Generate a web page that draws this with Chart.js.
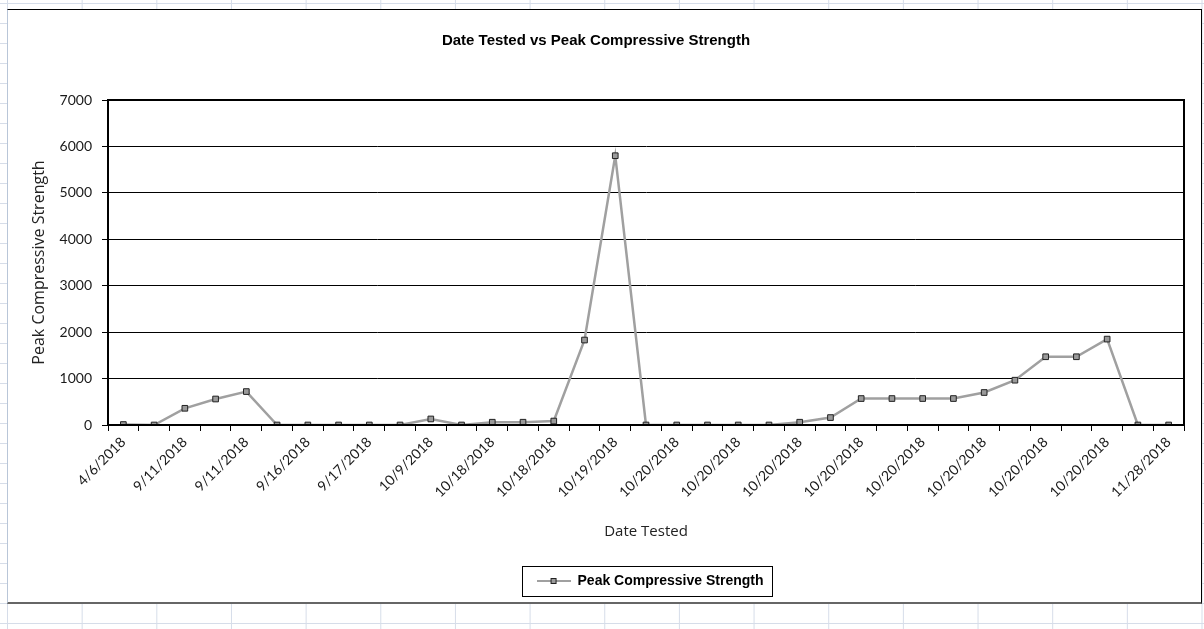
<!DOCTYPE html>
<html lang="en">
<head>
    <meta charset="UTF-8">
    <title>Date Tested vs Peak Compressive Strength</title>
    <style>
        body {
            margin: 0;
            width: 1204px;
            height: 629px;
            overflow: hidden;
            background-color: white;
            /* faint spreadsheet cell lines behind the chart object */
            background-image:
                linear-gradient(to right, #d6dde9 1px, transparent 1px),
                linear-gradient(to bottom, #d6dde9 1px, transparent 1px);
            background-size: 74.67px 100%, 100% 20px;
            background-position: 7px 0, 0 3px;
        }
        #wrap {
            position: absolute;
            left: 7px;
            top: 9px;
            width: 1193px;
            height: 592px;
            background: white;
            border-left: 1px solid #b9c6d8;
            border-top: 1px solid #000;
            border-right: 1px solid #000;
            border-bottom: 2px solid #666;
        }
        #lineChart {
            display: block;
        }
    </style>
    <script src="https://cdn.jsdelivr.net/npm/chart.js"></script>
</head>
<body>
    <div id="wrap">
        <canvas id="lineChart" width="1193" height="592"></canvas>
    </div>

    <script>
        // dates tested (only every second one is labelled on the axis)
        const dates = [
            '4/6/2018', '9/11/2018', '9/11/2018', '9/11/2018', '9/11/2018',
            '9/16/2018', '9/16/2018', '9/17/2018', '9/17/2018', '10/9/2018',
            '10/9/2018', '10/18/2018', '10/18/2018', '10/18/2018', '10/18/2018',
            '10/19/2018', '10/19/2018', '10/20/2018', '10/20/2018', '10/20/2018',
            '10/20/2018', '10/20/2018', '10/20/2018', '10/20/2018', '10/20/2018',
            '10/20/2018', '10/20/2018', '10/20/2018', '10/20/2018', '10/20/2018',
            '10/20/2018', '10/20/2018', '10/20/2018', '11/28/2018', '11/28/2018'
        ];

        const peakStrength = [
            10, 0, 360, 560, 720, 0, 0, 0, 0, 0,
            130, 0, 60, 60, 85, 1830, 5800, 0, 0, 0,
            0, 0, 60, 160, 570, 570, 570, 570, 700, 965,
            1470, 1470, 1850, 0, 0
        ];

        const yTicks = [0, 1000, 2000, 3000, 4000, 5000, 6000, 7000];

        // legend symbol: grey line with a small square marker
        function legendSymbol() {
            const c = document.createElement('canvas');
            c.width = 34;
            c.height = 10;
            const g = c.getContext('2d');
            g.strokeStyle = '#a0a0a0';
            g.lineWidth = 2;
            g.beginPath();
            g.moveTo(0, 5);
            g.lineTo(34, 5);
            g.stroke();
            g.fillStyle = '#9a9a9a';
            g.fillRect(14, 2, 6, 6);
            g.strokeStyle = '#222';
            g.lineWidth = 1;
            g.strokeRect(14.5, 2.5, 5, 5);
            return c;
        }

        // black frame round the plot area, a box round the legend,
        // and the legend nudged to sit under the middle of the plot
        const frames = {
            id: 'frames',
            afterLayout(chart) {
                const lg = chart.legend;
                const a = chart.chartArea;
                const shift = Math.round((a.left + a.right) / 2 + 4 - (lg.left + lg.right) / 2);
                lg.left += shift;
                lg.right += shift;
            },
            afterDraw(chart) {
                const ctx = chart.ctx;
                const a = chart.chartArea;
                ctx.save();
                ctx.strokeStyle = '#000';
                ctx.lineWidth = 2;
                ctx.strokeRect(a.left, a.top, a.right - a.left, a.bottom - a.top);
                const hb = chart.legend.legendHitBoxes[0];
                if (hb) {
                    const cy = hb.top + hb.height / 2;
                    ctx.lineWidth = 1;
                    ctx.strokeRect(Math.round(hb.left - 15) + 0.5, Math.round(cy - 15) + 0.5,
                        Math.round(hb.width + 23), 30);
                }
                ctx.restore();
            }
        };

        function createLineChart() {
            const ctx = document.getElementById('lineChart').getContext('2d');
            const symbol = legendSymbol();

            new Chart(ctx, {
                type: 'line',
                data: {
                    labels: dates,
                    datasets: [{
                        label: 'Peak Compressive Strength',
                        data: peakStrength,
                        borderColor: '#a0a0a0',
                        borderWidth: 2.5,
                        pointStyle: 'rect',
                        pointRadius: 4,
                        pointBackgroundColor: '#9a9a9a',
                        pointBorderColor: '#222',
                        pointBorderWidth: 1,
                        fill: false,
                        tension: 0
                    }]
                },
                options: {
                    responsive: false,
                    animation: false,
                    layout: {
                        padding: { left: 0, right: 17, top: 0, bottom: 4 }
                    },
                    scales: {
                        x: {
                            offset: true,
                            afterFit: (scale) => { scale.height = 139; },
                            grid: {
                                offset: true,
                                drawOnChartArea: false,
                                drawTicks: true,
                                tickLength: 6,
                                color: '#000'
                            },
                            border: { color: '#000', width: 2 },
                            ticks: {
                                autoSkip: false,
                                minRotation: 45,
                                maxRotation: 45,
                                color: '#1a1a1a',
                                font: { family: 'Lato', size: 14 },
                                callback: function (value, index) {
                                    return index % 2 === 0 ? this.getLabelForValue(value) : '';
                                }
                            },
                            title: {
                                display: true,
                                text: 'Date Tested',
                                color: '#222',
                                font: { family: 'Open Sans', size: 15 },
                                padding: { top: 0, bottom: 23 }
                            }
                        },
                        y: {
                            min: yTicks[0],
                            max: yTicks[yTicks.length - 1],
                            afterFit: (scale) => { scale.width = 100; },
                            afterBuildTicks: (scale) => {
                                scale.ticks = yTicks.map(v => ({ value: v }));
                            },
                            grid: {
                                color: '#000',
                                tickLength: 6
                            },
                            border: { color: '#000', width: 2 },
                            ticks: {
                                padding: 10,
                                color: '#1a1a1a',
                                font: { family: 'Lato', size: 14 },
                                callback: (value) => String(value)
                            },
                            title: {
                                display: true,
                                text: 'Peak Compressive Strength',
                                color: '#222',
                                font: { family: 'Open Sans', size: 16 },
                                padding: { top: 22, bottom: 0 }
                            }
                        }
                    },
                    plugins: {
                        title: {
                            display: true,
                            text: 'Date Tested vs Peak Compressive Strength',
                            color: '#000',
                            font: { family: 'Liberation Sans', size: 15, weight: 'bold' },
                            padding: { top: 22, bottom: 50 }
                        },
                        legend: {
                            display: true,
                            position: 'bottom',
                            labels: {
                                usePointStyle: true,
                                pointStyleWidth: 34,
                                padding: 10,
                                color: '#000',
                                font: { family: 'Liberation Sans', size: 14, weight: 'bold' },
                                generateLabels: (chart) => {
                                    const items = Chart.defaults.plugins.legend.labels.generateLabels(chart);
                                    items.forEach(it => { it.pointStyle = symbol; });
                                    return items;
                                }
                            }
                        },
                        tooltip: { enabled: false }
                    }
                },
                plugins: [frames]
            });
        }

        createLineChart();
    </script>
</body>
</html>
